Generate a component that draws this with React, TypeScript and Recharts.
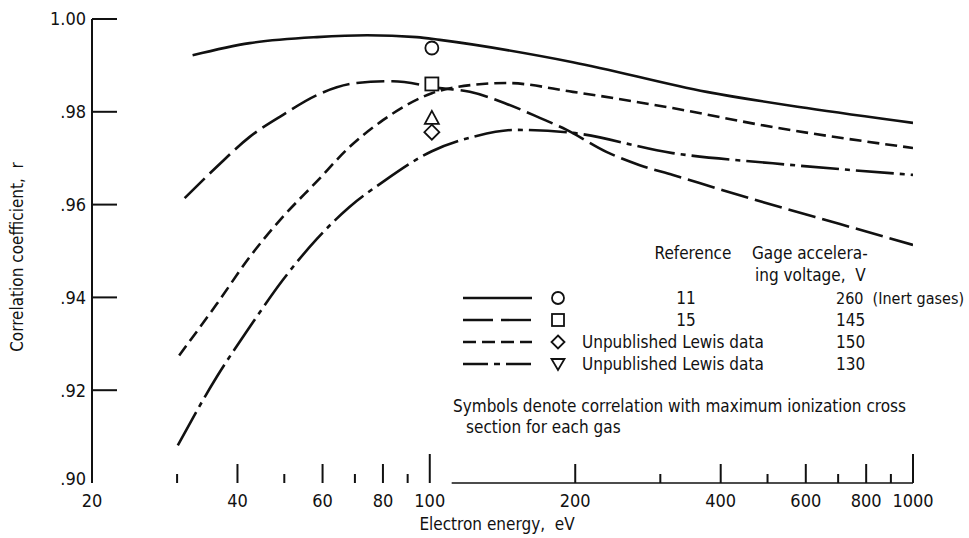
import React from "react";
import {
  ComposedChart,
  Line,
  Scatter,
  XAxis,
  YAxis,
  ReferenceLine,
} from "recharts";

// ---------- data (electron energy eV, correlation coefficient r) ----------
const ref11Energy = [32.3, 42.4, 58.4, 74.2, 94, 104.9, 197.7, 374, 603, 1000];
const ref11R = [0.9922, 0.9948, 0.9961, 0.9965, 0.9961, 0.9955, 0.9907, 0.9843, 0.9808, 0.9776];

const ref15Energy = [31.1, 36.2, 42.4, 49.6, 58.4, 70.6, 83.8, 104.9, 121, 144.3, 168.9, 192, 232.6, 272, 318.6, 404, 513, 706, 1000];
const ref15R = [0.9614, 0.9681, 0.9746, 0.9793, 0.9836, 0.9862, 0.9866, 0.9851, 0.9843, 0.9817, 0.9787, 0.9761, 0.9713, 0.9685, 0.9664, 0.9631, 0.9599, 0.9558, 0.9513];

const lewis150Energy = [30.3, 36.2, 42.4, 49.6, 58.4, 68.2, 80, 101, 122.7, 144, 197.7, 318, 513, 1000];
const lewis150R = [0.9275, 0.9385, 0.9487, 0.9573, 0.965, 0.9724, 0.9782, 0.984, 0.9858, 0.9862, 0.9843, 0.9808, 0.9767, 0.9722];

const lewis130Energy = [30.1, 36.2, 42.4, 49.6, 58.4, 68.2, 80, 101, 125, 150, 192, 318, 513, 1000];
const lewis130R = [0.9081, 0.9228, 0.9336, 0.9437, 0.9526, 0.9595, 0.9649, 0.9715, 0.9748, 0.9761, 0.9756, 0.9711, 0.9689, 0.9664];

// symbols: correlation with maximum ionization cross section
const symbolEnergy = 101;
const circleR = 0.99375;
const squareR = 0.986;
const triangleR = 0.9787;
const diamondR = 0.9756;

const xTicks = [20, 30, 40, 50, 60, 70, 80, 90, 100, 200, 300, 400, 500, 600, 700, 800, 900, 1000];
const xLabeled = [20, 40, 60, 80, 100, 200, 400, 600, 800, 1000];
const xDecades = [100, 1000];
const yTicks = [0.9, 0.92, 0.94, 0.96, 0.98, 1.0];

const legendRows = [
  { ref: "11", volts: "260  (Inert gases)" },
  { ref: "15", volts: "145" },
  { ref: "Unpublished Lewis data", volts: "150" },
  { ref: "Unpublished Lewis data", volts: "130" },
];

// ---------- layout ----------
const W = 969;
const H = 538;
const PLOT = { left: 92, top: 19, right: 913, bottom: 483 };
const Y_AXIS_W = 60;
const X_AXIS_H = 40;
const FONT = "'Liberation Sans Narrow', 'DejaVu Sans Condensed', 'Roboto Condensed', 'Liberation Sans', Arial, sans-serif";
const INK = "#111";

const zip = (xs: number[], ys: number[]) => xs.map((x, i) => ({ x, y: ys[i] }));

const series = [
  { key: "ref11", data: zip(ref11Energy, ref11R), dash: undefined as string | undefined },
  { key: "ref15", data: zip(ref15Energy, ref15R), dash: "28 7" },
  { key: "lewis150", data: zip(lewis150Energy, lewis150R), dash: "12 6" },
  { key: "lewis130", data: zip(lewis130Energy, lewis130R), dash: "38 6 5 6" },
];

const legendDashes = [undefined, "30 8", "13 6", "25 6 6 6"];

const YTick = (props: any) => {
  const { y, payload } = props;
  const v = payload.value as number;
  const label = v >= 0.999 ? "1.00" : "." + String(Math.round(v * 100));
  return (
    <g>
      {v > 0.905 && (
        <line x1={PLOT.left} x2={PLOT.left + 25} y1={y} y2={y} stroke={INK} strokeWidth={2} />
      )}
      <text
        x={PLOT.left - 6}
        y={v < 0.905 ? y - 4 : y}
        dy="0.36em"
        textAnchor="end"
        fontFamily={FONT}
        fontSize={18}
        fill={INK}
      >
        {label}
      </text>
    </g>
  );
};

const XTick = (props: any) => {
  const { x, payload } = props;
  const v = payload.value as number;
  const isDecade = xDecades.includes(v);
  const isLabeled = xLabeled.includes(v);
  const len = isDecade ? 29 : isLabeled ? 19 : 9;
  return (
    <g>
      {v > 20 && (
        <line x1={x} x2={x} y1={PLOT.bottom} y2={PLOT.bottom - len} stroke={INK} strokeWidth={2} />
      )}
      {isLabeled && (
        <text
          x={x}
          y={PLOT.bottom + 24}
          textAnchor="middle"
          fontFamily={FONT}
          fontSize={18}
          fill={INK}
        >
          {String(v)}
        </text>
      )}
    </g>
  );
};

const markerStyle = { fill: "#fff", stroke: INK, strokeWidth: 1.8 };

const CircleShape = (p: any) => <circle cx={p.cx} cy={p.cy} r={6.5} {...markerStyle} />;
const SquareShape = (p: any) => (
  <rect x={p.cx - 6.5} y={p.cy - 6.5} width={13} height={13} {...markerStyle} />
);
const TriangleShape = (p: any) => (
  <path d={`M${p.cx},${p.cy - 7} L${p.cx + 7},${p.cy + 6} L${p.cx - 7},${p.cy + 6} Z`} {...markerStyle} />
);
const DiamondShape = (p: any) => (
  <path d={`M${p.cx},${p.cy - 7.5} L${p.cx + 7.5},${p.cy} L${p.cx},${p.cy + 7.5} L${p.cx - 7.5},${p.cy} Z`} {...markerStyle} />
);

const Legend = () => {
  const lx1 = 463;
  const lx2 = 532;
  const symX = 558;
  const refX = 686;
  const voltX = 836;
  const rowY = [298, 320, 342, 364];
  const txt = { fontFamily: FONT, fontSize: 17, fill: INK } as const;
  return (
    <svg
      width={W}
      height={H}
      style={{ position: "absolute", left: 0, top: 0, pointerEvents: "none" }}
    >
      <text x={693} y={259} textAnchor="middle" {...txt}>Reference</text>
      <text x={752} y={259} {...txt}>Gage accelera-</text>
      <text x={755} y={281} {...txt} style={{ whiteSpace: "pre" }}>ing voltage,  V</text>
      {legendRows.map((r, i) => {
        const y = rowY[i];
        const isText = i >= 2;
        return (
          <g key={i}>
            <line
              x1={lx1}
              x2={lx2}
              y1={y}
              y2={y}
              stroke={INK}
              strokeWidth={2.4}
              strokeDasharray={legendDashes[i]}
            />
            {i === 0 && <circle cx={symX} cy={y} r={6} fill="#fff" stroke={INK} strokeWidth={1.8} />}
            {i === 1 && <rect x={symX - 6} y={y - 6} width={12} height={12} fill="#fff" stroke={INK} strokeWidth={1.8} />}
            {i === 2 && (
              <path d={`M${symX},${y - 6.5} L${symX + 6.5},${y} L${symX},${y + 6.5} L${symX - 6.5},${y} Z`} fill="#fff" stroke={INK} strokeWidth={1.8} />
            )}
            {i === 3 && (
              <path d={`M${symX - 6.5},${y - 5} L${symX + 6.5},${y - 5} L${symX},${y + 6} Z`} fill="#fff" stroke={INK} strokeWidth={1.8} />
            )}
            <text
              x={isText ? 582 : refX}
              y={y + 6}
              textAnchor={isText ? "start" : "middle"}
              {...txt}
            >
              {r.ref}
            </text>
            <text x={voltX} y={y + 6} {...txt} fontSize={i === 0 ? 16 : 17} style={{ whiteSpace: "pre" }}>
              {r.volts}
            </text>
          </g>
        );
      })}
      <text x={453} y={412} {...txt}>Symbols denote correlation with maximum ionization cross</text>
      <text x={466} y={433} {...txt}>section for each gas</text>
      <text x={497} y={530} textAnchor="middle" {...txt} style={{ whiteSpace: "pre" }}>Electron energy,  eV</text>
      <text
        x={0}
        y={0}
        textAnchor="middle"
        transform={`translate(23,257) rotate(-90)`}
        {...txt}
        style={{ whiteSpace: "pre" }}
      >
        Correlation coefficient,  r
      </text>
    </svg>
  );
};

export default function App() {
  return (
    <div style={{ position: "absolute", left: 0, top: 0, width: W, height: H, background: "#fff" }}>
      <ComposedChart
        width={W}
        height={H}
        margin={{
          top: PLOT.top,
          right: W - PLOT.right,
          bottom: H - PLOT.bottom - X_AXIS_H,
          left: PLOT.left - Y_AXIS_W,
        }}
      >
        <XAxis
          dataKey="x"
          type="number"
          scale="log"
          domain={[20, 1000]}
          ticks={xTicks}
          allowDataOverflow
          axisLine={false}
          tickLine={false}
          tick={<XTick />}
          height={X_AXIS_H}
          interval={0}
        />
        <YAxis
          type="number"
          domain={[0.9, 1.0]}
          ticks={yTicks}
          allowDataOverflow
          width={Y_AXIS_W}
          axisLine={{ stroke: INK, strokeWidth: 2 }}
          tickLine={false}
          tick={<YTick />}
          interval={0}
        />
        <ReferenceLine
          segment={[
            { x: 111, y: 0.9 },
            { x: 1000, y: 0.9 },
          ]}
          stroke={INK}
          strokeWidth={1.5}
          ifOverflow="visible"
        />
        {series.map((s) => (
          <Line
            key={s.key}
            data={s.data}
            dataKey="y"
            type="monotone"
            stroke={INK}
            strokeWidth={2.6}
            strokeDasharray={s.dash}
            dot={false}
            activeDot={false}
            isAnimationActive={false}
          />
        ))}
        <Scatter data={[{ x: symbolEnergy, y: circleR }]} dataKey="y" shape={CircleShape} isAnimationActive={false} />
        <Scatter data={[{ x: symbolEnergy, y: squareR }]} dataKey="y" shape={SquareShape} isAnimationActive={false} />
        <Scatter data={[{ x: symbolEnergy, y: triangleR }]} dataKey="y" shape={TriangleShape} isAnimationActive={false} />
        <Scatter data={[{ x: symbolEnergy, y: diamondR }]} dataKey="y" shape={DiamondShape} isAnimationActive={false} />
      </ComposedChart>
      <Legend />
    </div>
  );
}
